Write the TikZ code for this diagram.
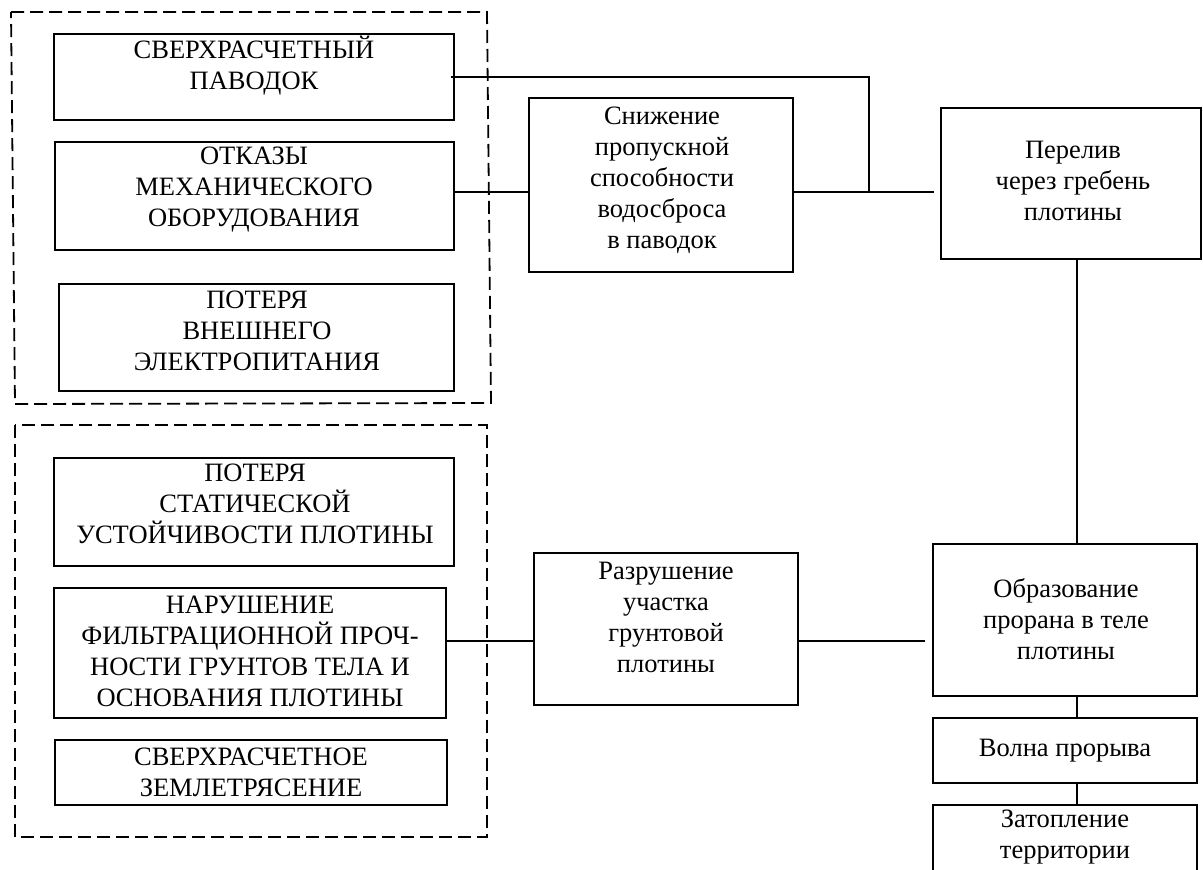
\documentclass[tikz,border=0pt]{standalone}
\usepackage{fontspec}
\setmainfont{Liberation Serif}
\begin{document}
\begin{tikzpicture}[x=1pt,y=-1pt,
  box/.style={draw,line width=1.8pt,inner sep=0pt,rectangle},
  txt/.style={align=center,inner sep=0pt,font=\fontsize{26.5}{31}\selectfont},
  conn/.style={line width=1.8pt},
  grp/.style={line width=1.8pt,dash pattern=on 13pt off 6pt}]
\clip (0,0) rectangle (1203,870);
% groups
\draw[grp] (11,12) -- (487,12) -- (491,403) -- (15,404) -- cycle;
\draw[grp] (15,425) rectangle (487,837);
% left boxes, top group
\node[box,minimum width=400pt,minimum height=86pt] (b1) at (254,77) {};
\node[txt] (t1) at (254,66) {СВЕРХРАСЧЕТНЫЙ\\ПАВОДОК};
\node[box,minimum width=399pt,minimum height=108pt] (b2) at (254.5,196) {};
\node[txt] (t2) at (254,190) {ОТКАЗЫ\\МЕХАНИЧЕСКОГО\\ОБОРУДОВАНИЯ};
\node[box,minimum width=395pt,minimum height=107pt] (b3) at (256.5,337.5) {};
\node[txt] (t3) at (257,331) {ПОТЕРЯ\\ВНЕШНЕГО\\ЭЛЕКТРОПИТАНИЯ};
% left boxes, bottom group
\node[box,minimum width=400pt,minimum height=108pt] (b4) at (254,512) {};
\node[txt] (t4) at (255,504) {ПОТЕРЯ\\СТАТИЧЕСКОЙ\\УСТОЙЧИВОСТИ ПЛОТИНЫ};
\node[box,minimum width=392pt,minimum height=130pt] (b5) at (250,653) {};
\node[txt] (t5) at (250,651) {НАРУШЕНИЕ\\ФИЛЬТРАЦИОННОЙ ПРОЧ-\\НОСТИ ГРУНТОВ ТЕЛА И\\ОСНОВАНИЯ ПЛОТИНЫ};
\node[box,minimum width=392pt,minimum height=65pt] (b6) at (251,772.5) {};
\node[txt] (t6) at (251,772) {СВЕРХРАСЧЕТНОЕ\\ЗЕМЛЕТРЯСЕНИЕ};
% middle boxes
\node[box,minimum width=264pt,minimum height=174pt] (sn) at (661,185) {};
\node[txt] (tsn) at (662,180) {Снижение\\пропускной\\способности\\водосброса\\в паводок};
\node[box,minimum width=264pt,minimum height=152pt] (rz) at (666,629) {};
\node[txt] (trz) at (666,617) {Разрушение\\участка\\грунтовой\\плотины};
% right column
\node[box,minimum width=260pt,minimum height=151pt] (pr) at (1071,183.5) {};
\node[txt] (tpr) at (1073,181) {Перелив\\через гребень\\плотины};
\node[box,minimum width=264pt,minimum height=152pt] (ob) at (1065,620) {};
\node[txt] (tob) at (1066,619) {Образование\\прорана в теле\\плотины};
\node[box,minimum width=264pt,minimum height=65pt] (vp) at (1065,750.5) {};
\node[txt] (tvp) at (1065,751) {Волна прорыва};
\node[box,minimum width=264pt,minimum height=80pt] (zt) at (1065,845) {};
\node[txt] (tzt) at (1065,837) {Затопление\\территории};
% connectors
\coordinate (j) at (869,192);
\coordinate (k) at (0,641);
\coordinate (v) at (1077,0);
\draw[conn] ([xshift=-4pt]b1.east) -| (j);
\draw[conn] (b2.east |- j) -- (sn.west |- j);
\draw[conn] (sn.east |- j) -- ([xshift=-6pt]pr.west |- j);
\draw[conn] (b5.east |- k) -- (rz.west |- k);
\draw[conn] (rz.east |- k) -- ([xshift=-7pt]ob.west |- k);
\draw[conn] (pr.south -| v) -- (ob.north -| v);
\draw[conn] (ob.south -| v) -- (vp.north -| v);
\draw[conn] (vp.south -| v) -- (zt.north -| v);
\end{tikzpicture}
\end{document}
